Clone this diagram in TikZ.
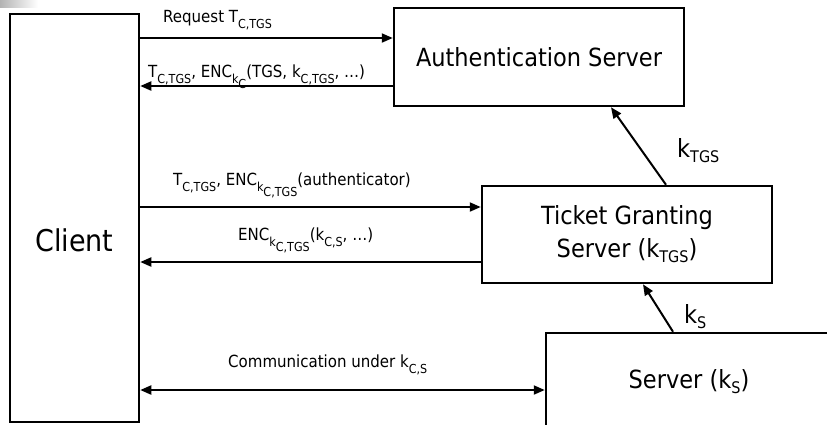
\documentclass[tikz,border=0pt]{standalone}
\usepackage{fontspec}
\setmainfont{DejaVu Sans Condensed}
\usetikzlibrary{arrows.meta}
\newcommand\labsub[1]{\raisebox{-0.4em}{\fontsize{12.4}{12.4}\selectfont #1}}
\newcommand\boxsub[1]{\raisebox{-0.2em}{\fontsize{16}{16}\selectfont #1}}

\begin{document}
\begin{tikzpicture}[x=1pt,y=-1pt,>={Triangle[length=11pt,width=9pt]},
    box/.style={draw,line width=2.5pt,align=center,inner sep=0pt,font=\fontsize{25}{33}\selectfont},
    msg/.style={line width=2pt,->},
    lbl/.style={anchor=base west,inner sep=0pt,font=\fontsize{16.7}{20}\selectfont}]
    \useasboundingbox (0,0) rectangle (827,424);
    \clip (0,0) rectangle (827,424);
    \shade[left color=black!30,right color=white] (0,0) rectangle (38,7);

    \node[box,minimum width=129,minimum height=408] (client) at (74.5,218) {};
    \node[font=\fontsize{30}{36}\selectfont] (clientname) at (74.5,240.5) {Client};
    \node[box,minimum width=290,minimum height=98] (auth) at (539,57) {Authentication Server};
    \node[box,minimum width=290,minimum height=97] (tgs) at (627,234.5) {Ticket Granting\\Server (k\boxsub{TGS})};
    \node[box,minimum width=286,minimum height=97] (server) at (689,381.5) {Server (k\boxsub{S})};

    \draw[msg] (client.east |- 0,38) -- (auth.west |- 0,38);
    \draw[msg] (auth.west |- 0,86) -- (client.east |- 0,86);
    \draw[msg] (client.east |- 0,207) -- (tgs.west |- 0,207);
    \draw[msg] (tgs.west |- 0,262) -- (client.east |- 0,262);
    \draw[msg,<->] (client.east |- 0,390) -- (server.west |- 0,390);
    \draw[msg] (tgs.north -| 666,0) -- (auth.south -| 611,0);
    \draw[msg] (server.north -| 673,0) -- (tgs.south -| 643,0);

    \node[lbl] (lreq) at (163,22) {Request T\labsub{C,TGS}};
    \node[lbl] (lrep) at (148,77) {T\labsub{C,TGS}, ENC\labsub{k\labsub{C}}(TGS, k\labsub{C,TGS}, \dots)};
    \node[lbl] (lauth) at (173,185) {T\labsub{C,TGS}, ENC\labsub{k\labsub{C,TGS}}(authenticator)};
    \node[lbl] (lticket) at (238,240) {ENC\labsub{k\labsub{C,TGS}}(k\labsub{C,S}, \dots)};
    \node[lbl] (lcomm) at (228,367) {Communication under k\labsub{C,S}};
    \node[anchor=base west,inner sep=0pt,font=\fontsize{25}{30}\selectfont] (lktgs) at (677,157) {k\boxsub{TGS}};
    \node[anchor=base west,inner sep=0pt,font=\fontsize{25}{30}\selectfont] (lks) at (684,323) {k\boxsub{S}};
\end{tikzpicture}
\end{document}
